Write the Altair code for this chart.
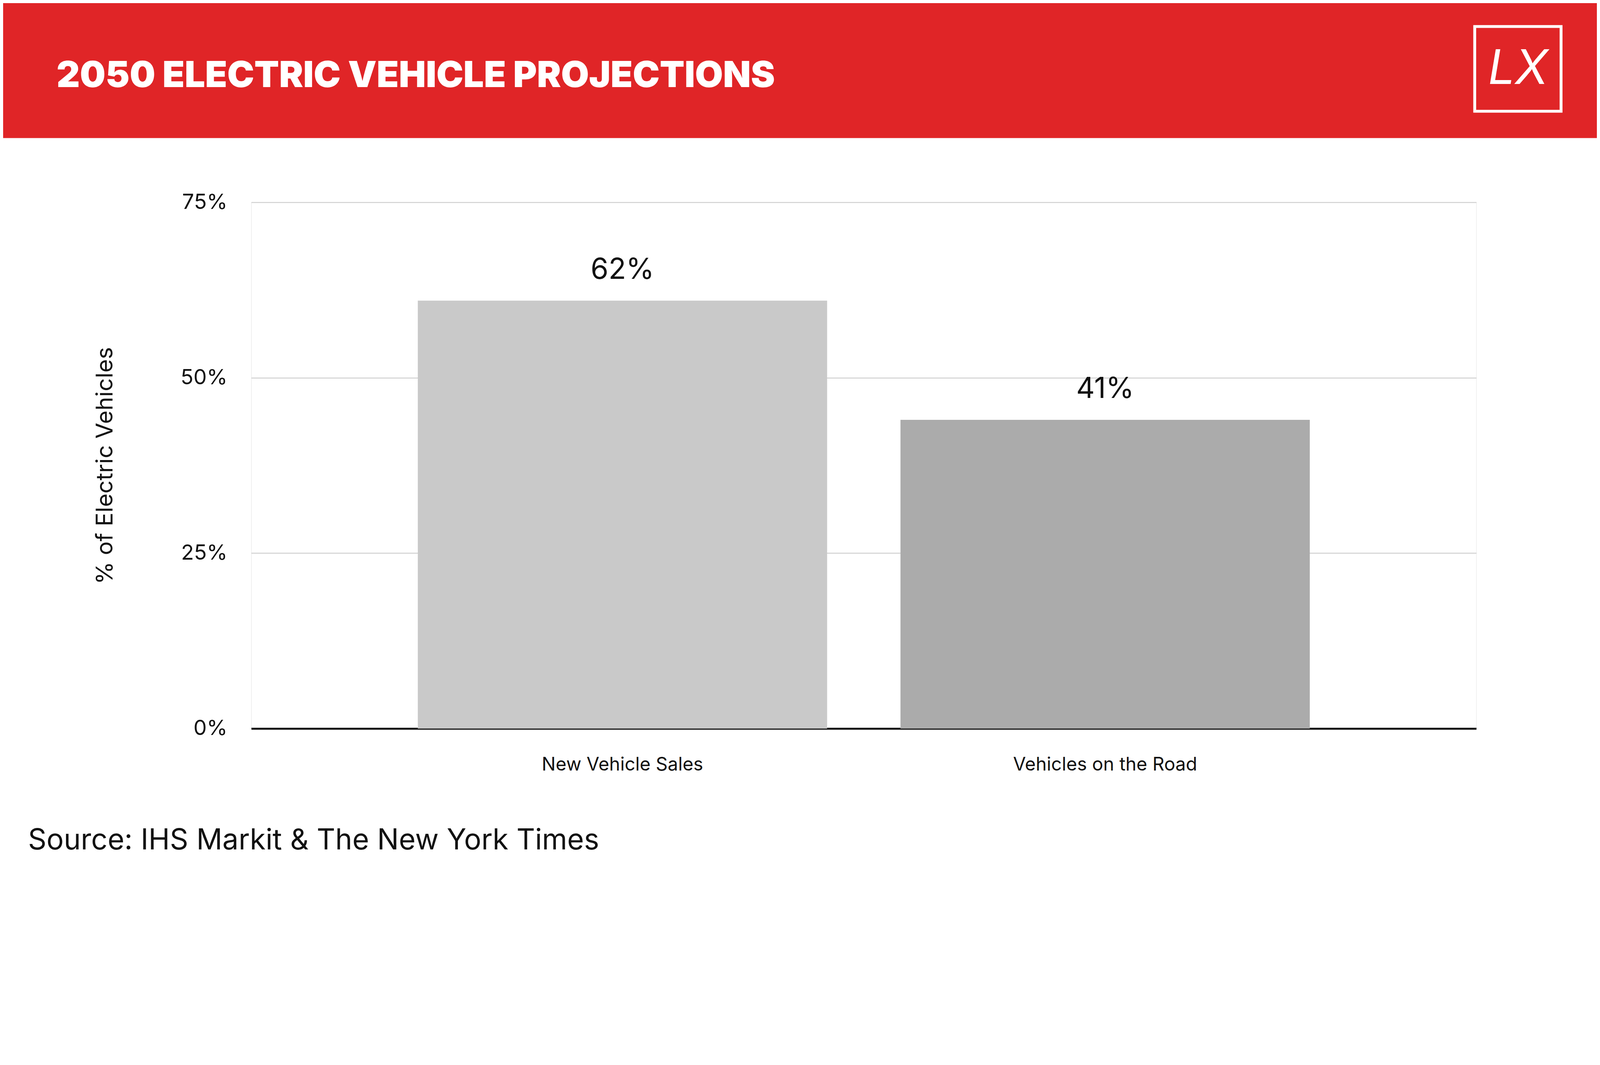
import altair as alt
import pandas as pd

categories = ["New Vehicle Sales", "Vehicles on the Road"]
shares = [0.61, 0.44]
share_labels = ["62%", "41%"]
bar_colors = ["#c9c9c9", "#ababab"]

TITLE = "2050 ELECTRIC VEHICLE PROJECTIONS"
SOURCE = "Source: IHS Markit & The New York Times"
LOGO = "LX"
FONT = "Inter"

df = pd.DataFrame({"category": categories, "share": shares, "label": share_labels})
W, H = 3831, 1646
x_enc = alt.X("category:N", sort=categories, title=None,
              scale=alt.Scale(paddingInner=0.152, paddingOuter=0.345),
              axis=alt.Axis(labelAngle=0, labelFontSize=58, labelColor="#111", labelPadding=85,
                            labelLimit=0, ticks=False, domainColor="#111", domainWidth=6,
                            labelFont=FONT))

bars = alt.Chart(df).mark_bar().encode(
    x=x_enc,
    y=alt.Y("share:Q", title="% of Electric Vehicles",
            scale=alt.Scale(domain=[0, 0.75], nice=False),
            axis=alt.Axis(values=[0, 0.25, 0.5, 0.75], format=".0%", labelFontSize=66,
                          labelColor="#111", labelPadding=75, ticks=False, domain=False,
                          gridColor="#d0d0d0", gridWidth=3, titleFontSize=72,
                          titleFontWeight="normal", titleColor="#111", titlePadding=220,
                          labelFont=FONT, titleFont=FONT)),
    color=alt.Color("category:N", scale=alt.Scale(domain=categories, range=bar_colors), legend=None),
)
text = alt.Chart(df).mark_text(dy=-95, fontSize=90, font=FONT, color="#111").encode(
    x=alt.X("category:N", sort=categories), y="share:Q", text="label:N")

one = pd.DataFrame({"t": [TITLE], "s": [SOURCE], "l": [LOGO]})
header = alt.Chart(one).mark_rect(color="#e02527", clip=False).encode(
    x=alt.value(-900), x2=alt.value(4400), y=alt.value(-2000), y2=alt.value(-201))
title = alt.Chart(one).mark_text(align="left", baseline="middle", fontSize=113, fontWeight=900,
                                 font=FONT, color="white").encode(
    x=alt.value(175 - 784), y=alt.value(230 - 625), text="t:N")
logo_box = alt.Chart(one).mark_rect(fill=None, stroke="white", strokeWidth=9).encode(
    x=alt.value(4610 - 784), x2=alt.value(4880 - 784), y=alt.value(75 - 625), y2=alt.value(340 - 625))
logo = alt.Chart(one).mark_text(fontSize=150, font=FONT, fontStyle="italic", color="white").encode(
    x=alt.value(4745 - 784), y=alt.value(210 - 625), text="l:N")
source = alt.Chart(one).mark_text(align="left", baseline="middle", fontSize=90, font=FONT,
                                  color="#111").encode(
    x=alt.value(86 - 784), y=alt.value(2622 - 625), text="s:N")

chart = alt.layer(header, title, logo_box, logo, bars, text, source).properties(
    width=W, height=H, autosize=alt.AutoSizeParams(type="none"),
    padding={"left": 776, "top": 347, "right": 377, "bottom": 500},
).configure_view(stroke=None).configure(background="white")

chart.save("out.html", embed_options={"renderer": "svg", "actions": False})
